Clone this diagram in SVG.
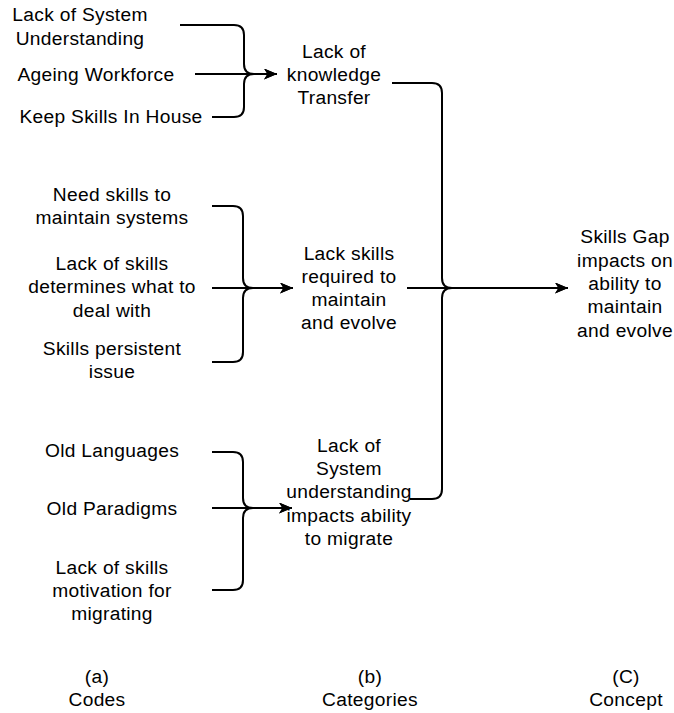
<svg xmlns="http://www.w3.org/2000/svg" width="674" height="713" viewBox="0 0 674 713">
<style>
text{font-family:"Liberation Sans",Arial,sans-serif;font-size:19.2px;fill:#000;text-anchor:middle;letter-spacing:0.3px}
.c{fill:none;stroke:#000;stroke-width:2}
</style>
<defs>
<marker id="ah" markerWidth="14" markerHeight="12" refX="13" refY="5.5" orient="auto" markerUnits="userSpaceOnUse">
<path d="M0,0 L13,5.5 L0,11 L3.5,5.5 Z" fill="#000"/>
</marker>
</defs>
<rect width="674" height="713" fill="#fff"/>
<g id="connectors">
<path class="c" d="M180,25 H234 Q244,25 244,35 V64 Q244,74 254,74 H277" marker-end="url(#ah)"/>
<path class="c" d="M195,74 H277" marker-end="url(#ah)"/>
<path class="c" d="M212,117 H234 Q244,117 244,107 V84 Q244,74 254,74"/>
<path class="c" d="M212,206 H233 Q243,206 243,216 V278 Q243,288 253,288 H293" marker-end="url(#ah)"/>
<path class="c" d="M212,288 H293" marker-end="url(#ah)"/>
<path class="c" d="M212,362 H233 Q243,362 243,352 V298 Q243,288 253,288"/>
<path class="c" d="M212,452 H233 Q243,452 243,462 V498 Q243,508 253,508 H292" marker-end="url(#ah)"/>
<path class="c" d="M212,508 H292" marker-end="url(#ah)"/>
<path class="c" d="M212,590 H233 Q243,590 243,580 V518 Q243,508 253,508"/>
<path class="c" d="M392,83 H432 Q442,83 442,93 V278 Q442,288 452,288 H568" marker-end="url(#ah)"/>
<path class="c" d="M407,288 H568" marker-end="url(#ah)"/>
<path class="c" d="M410,499 H432 Q442,499 442,489 V298 Q442,288 452,288"/>
</g>
<g id="code-lack-system"><text x="80" y="21">Lack of System</text><text x="80" y="45">Understanding</text></g>
<g id="code-ageing"><text x="96" y="81">Ageing Workforce</text></g>
<g id="code-keep"><text x="111" y="123">Keep Skills In House</text></g>
<g id="code-need"><text x="112" y="201">Need skills to</text><text x="112" y="224">maintain systems</text></g>
<g id="code-lack-skills"><text x="112" y="270">Lack of skills</text><text x="112" y="293">determines what to</text><text x="112" y="317">deal with</text></g>
<g id="code-persistent"><text x="112" y="355">Skills persistent</text><text x="112" y="378">issue</text></g>
<g id="code-old-lang"><text x="112" y="457">Old Languages</text></g>
<g id="code-old-para"><text x="112" y="515">Old Paradigms</text></g>
<g id="code-motivation"><text x="112" y="574">Lack of skills</text><text x="112" y="597">motivation for</text><text x="112" y="620">migrating</text></g>
<g id="cat-knowledge"><text x="334" y="58">Lack of</text><text x="334" y="81">knowledge</text><text x="334" y="104">Transfer</text></g>
<g id="cat-skills"><text x="349" y="260">Lack skills</text><text x="349" y="283">required to</text><text x="349" y="306">maintain</text><text x="349" y="329">and evolve</text></g>
<g id="cat-system"><text x="349" y="452">Lack of</text><text x="349" y="475">System</text><text x="349" y="498">understanding</text><text x="349" y="522">impacts ability</text><text x="349" y="545">to migrate</text></g>
<g id="concept"><text x="625" y="243">Skills Gap</text><text x="625" y="267">impacts on</text><text x="625" y="290">ability to</text><text x="625" y="313">maintain</text><text x="625" y="337">and evolve</text></g>
<g id="label-a"><text x="97" y="683">(a)</text><text x="97" y="706">Codes</text></g>
<g id="label-b"><text x="370" y="683">(b)</text><text x="370" y="706">Categories</text></g>
<g id="label-c"><text x="626" y="683">(C)</text><text x="626" y="706">Concept</text></g>
</svg>
